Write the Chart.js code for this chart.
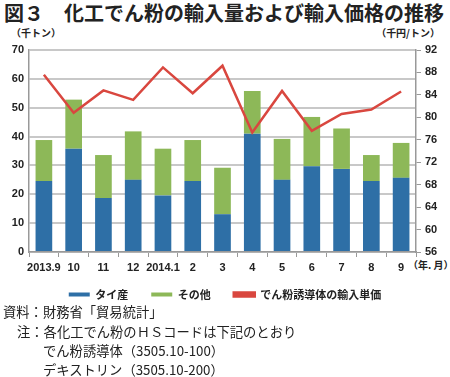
<!DOCTYPE html>
<html>
<head>
<meta charset="utf-8">
<script src="https://cdn.jsdelivr.net/npm/chart.js@4"></script>
<style>
  body { margin: 0; background: #fff; width: 450px; height: 377px; overflow: hidden; position: relative;
         font-family: "Noto Sans CJK JP", sans-serif; color: #222; }
  .abs { position: absolute; white-space: nowrap; }
  #title { left: 4px; top: 2px; font-size: 20px; line-height: 22px; font-weight: bold; }
  .unit { font-size: 10px; line-height: 12px; font-weight: bold; top: 27px; }
  .note { font-size: 13.3px; line-height: 16px; left: 3px; }
  #wrap { position: absolute; left: 0; top: 30px; width: 450px; height: 296px; }
</style>
</head>
<body>
<div class="abs" id="title">図３　化工でん粉の輸入量および輸入価格の推移</div>
<div class="abs unit" style="left:11px;">（千トン）</div>
<div class="abs unit" style="right:10px;">（千円/トン）</div>
<div class="abs unit" style="left:408px; top:259px;">（年. 月）</div>
<div id="wrap"><canvas id="chart"></canvas></div>
<div class="abs note" style="top:304px;">資料：財務省「貿易統計」</div>
<div class="abs note" style="top:324px; left:17px;">注：各化工でん粉のＨＳコードは下記のとおり</div>
<div class="abs note" style="top:343px; left:43px;">でん粉誘導体（3505.10-100）</div>
<div class="abs note" style="top:362px; left:43px;">デキストリン（3505.10-200）</div>
<script>
// months (year.month)
const months = ['2013.9', '10', '11', '12', '2014.1', '2', '3', '4', '5', '6', '7', '8', '9'];
// import volume, thousand tons
const thai = [24.6, 35.8, 18.7, 25.0, 19.6, 24.6, 13.1, 41.0, 25.0, 29.7, 28.8, 24.6, 25.7];
const others = [14.2, 17.0, 14.9, 16.8, 16.2, 14.2, 16.1, 14.8, 14.2, 17.1, 14.0, 9.0, 12.1];
// unit price of starch derivatives, thousand yen/ton
const price = [87.6, 80.8, 84.8, 83.1, 88.9, 84.3, 89.2, 77.3, 84.7, 77.6, 80.6, 81.4, 84.6];

const tickFont = { family: 'Liberation Sans, Arial, sans-serif', size: 11, weight: 'bold' };

// pull the legend up closer to the axis labels
const legendShift = {
    id: 'legendShift',
    afterLayout(chart) {
        chart.legend.top -= 16;
        chart.legend.bottom -= 16;
    }
};

new Chart(document.getElementById('chart'), {
    type: 'bar',
    data: {
        labels: months,
        datasets: [
            {
                label: 'タイ産',
                data: thai,
                backgroundColor: '#2e6fa6',
                yAxisID: 'y',
                order: 1
            },
            {
                label: 'その他',
                data: others,
                backgroundColor: '#8db858',
                yAxisID: 'y',
                order: 1
            },
            {
                type: 'line',
                label: 'でん粉誘導体の輸入単価',
                data: price,
                yAxisID: 'y2',
                borderColor: '#d9473f',
                backgroundColor: '#d9473f',
                borderWidth: 2.5,
                pointRadius: 0,
                tension: 0,
                order: 0
            }
        ]
    },
    plugins: [legendShift],
    options: {
        responsive: true,
        maintainAspectRatio: false,
        animation: false,
        datasets: { bar: { categoryPercentage: 1, barPercentage: 0.56 } },
        layout: { padding: { top: 20, left: 0, right: 0, bottom: 0 } },
        scales: {
            x: {
                stacked: true,
                border: { color: '#999', width: 1.5 },
                grid: { offset: true, drawOnChartArea: false, tickLength: 5, color: '#999' },
                ticks: { color: '#222', font: tickFont, padding: 4, maxRotation: 0, autoSkip: false },
                afterFit: s => { s.height = 30; }
            },
            y: {
                stacked: true,
                min: 0, max: 70,
                border: { color: '#999', width: 1.5 },
                grid: { color: '#c8c8c8', lineWidth: 2, drawTicks: false },
                ticks: { stepSize: 10, color: '#222', font: tickFont, padding: 5 },
                afterFit: s => { s.width = 29; }
            },
            y2: {
                position: 'right',
                min: 56, max: 92,
                border: { color: '#999', width: 1.5 },
                grid: { drawOnChartArea: false, tickLength: 5, color: '#999' },
                ticks: { stepSize: 4, color: '#222', font: tickFont, padding: 4 },
                afterFit: s => { s.width = 34; }
            }
        },
        plugins: {
            tooltip: { enabled: false },
            legend: {
                position: 'bottom',
                maxHeight: 50,
                labels: {
                    boxWidth: 21, boxHeight: 4,
                    padding: 23,
                    color: '#222',
                    sort: (a, b) => a.datasetIndex - b.datasetIndex,
                    font: { family: 'Noto Sans CJK JP', size: 11, weight: 'bold' }
                }
            }
        }
    }
});
</script>
</body>
</html>
